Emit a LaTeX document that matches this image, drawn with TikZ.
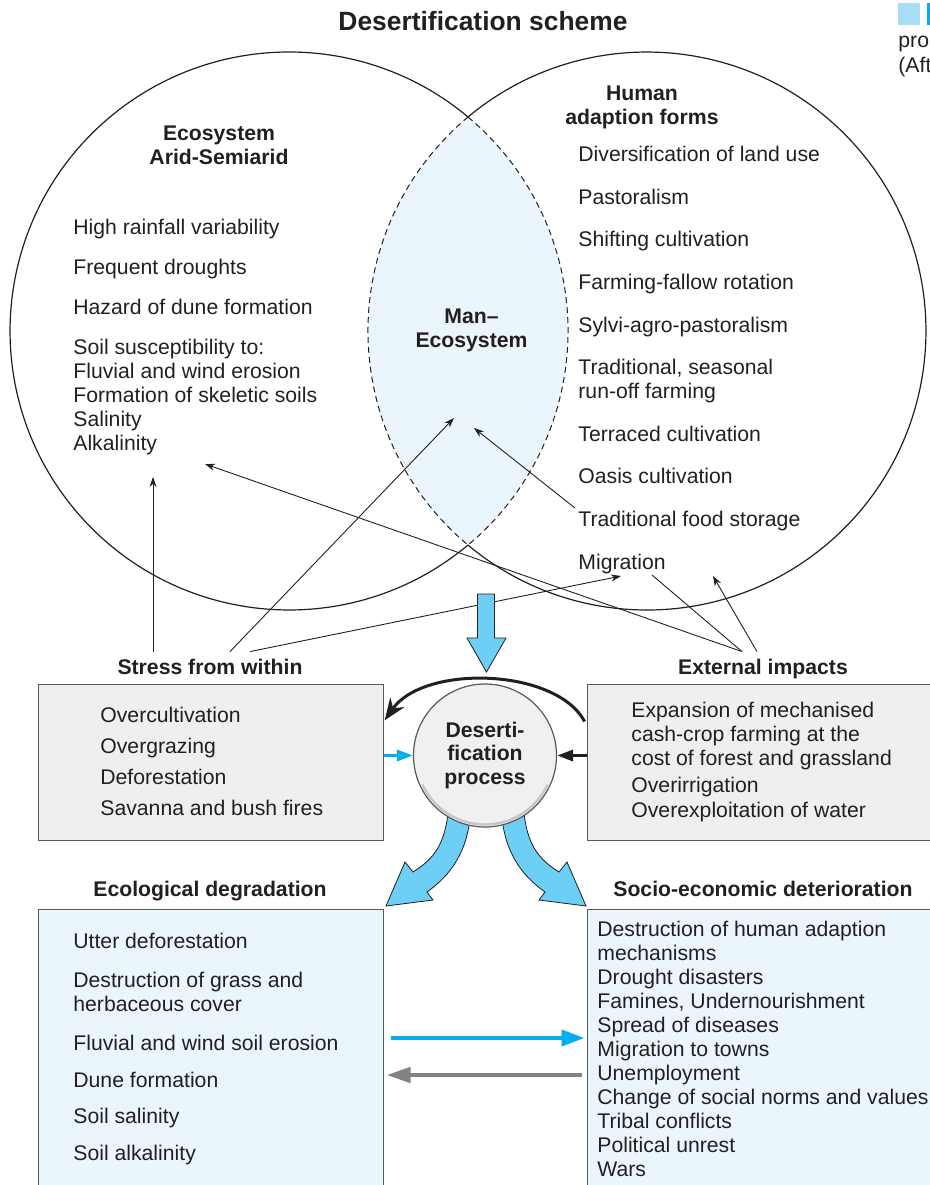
\documentclass[tikz,border=0pt]{standalone}
\usepackage{fontspec}
\setmainfont{Liberation Sans}
\usetikzlibrary{arrows.meta}
\definecolor{inkgray}{HTML}{231F20}
\definecolor{boxline}{HTML}{58595B}
\definecolor{boxgray}{HTML}{EEEFEF}
\definecolor{paleblue}{HTML}{EBF6FC}
\definecolor{arrowblue}{HTML}{6DCFF6}
\definecolor{cyanline}{HTML}{00AEEF}
\definecolor{greyline}{HTML}{808285}
\definecolor{tagblue}{HTML}{A7DDF5}

\begin{document}
\begin{tikzpicture}[x=0.5pt, y=-0.5pt,
    every node/.style={text=inkgray, font=\fontsize{10.6}{12}\selectfont},
    heading/.style={font=\fontsize{10.6}{12}\selectfont\bfseries, align=center, anchor=base},
    itemlist/.style={inner sep=0pt, align=left, anchor=base west},
    panel/.style={draw=boxline, line width=0.5pt, inner sep=0pt},
    ring/.style={draw=inkgray, line width=0.6pt},
    thinarrow/.style={draw=inkgray, line width=0.45pt, -{Stealth[length=5pt,width=3.5pt]}},
    bigarrow/.style={fill=arrowblue, draw=inkgray, line width=0.4pt}]

    % Frame
    \useasboundingbox (0,0) rectangle (930,1185);

    % Title
    \node[heading, font=\fontsize{13.2}{15}\selectfont\bfseries] (scheme) at (483,30) {Desertification scheme};

    % Caption corner (cut off)
    \fill[tagblue] (898,3) rectangle (920,25);
    \fill[cyanline] (927,3) rectangle (936,25);
    \node[itemlist] (capA) at (898,47) {pro};
    \node[itemlist] (capB) at (898,72) {(Aft};

    % Overlap of the two circles
    \fill[paleblue] (468,117) arc[start angle=-50.1, end angle=50.1, radius=279]
        arc[start angle=129.9, end angle=230.1, radius=279] -- cycle;

    % Circles
    \draw[ring] (468,545) arc[start angle=50.1, end angle=309.9, radius=279];
    \draw[ring] (468,117) arc[start angle=-129.9, end angle=129.9, radius=279];
    \draw[ring, line width=0.5pt, dash pattern=on 3pt off 2pt] (468,117)
        arc[start angle=-50.1, end angle=50.1, radius=279]
        arc[start angle=129.9, end angle=230.1, radius=279];

    % Ecosystem (nodes sit on the baseline of their last line)
    \node[heading] (ecoT) at (219,164) {Ecosystem\\Arid-Semiarid};
    \node[itemlist] (ecoList) at (73,450) {High rainfall variability\\[8pt] Frequent droughts\\[8pt]
        Hazard of dune formation\\[8pt] Soil susceptibility to:\\ Fluvial and wind erosion\\
        Formation of skeletic soils\\ Salinity\\ Alkalinity};

    % Human adaption
    \node[heading] (humanT) at (642,124) {Human\\adaption forms};
    \node[itemlist] (humanList) at (578,569) {Diversification of land use\\[9.3pt] Pastoralism\\[9.3pt]
        Shifting cultivation\\[9.3pt] Farming-fallow rotation\\[9.3pt] Sylvi-agro-pastoralism\\[9.3pt]
        Traditional, seasonal\\ run-off farming\\[9.3pt] Terraced cultivation\\[9.3pt]
        Oasis cultivation\\[9.3pt] Traditional food storage\\[9.3pt] Migration};

    % Man-Ecosystem
    \node[heading] (manT) at (471.5,347) {Man–\\Ecosystem};

    % Boxes
    \node[panel, fill=boxgray, minimum width=172.5pt, minimum height=78pt] (stress) at (210.5,762) {};
    \node[panel, fill=boxgray, minimum width=176.5pt, minimum height=78pt] (ext) at (763.5,762) {};
    \node[panel, fill=paleblue, minimum width=172.5pt, minimum height=143pt] (eco) at (210.5,1052) {};
    \node[panel, fill=paleblue, minimum width=176.5pt, minimum height=143pt] (socio) at (763.5,1052) {};

    % Box titles
    \node[heading] (stressT) at (210,674) {Stress from within};
    \node[heading] (extT) at (763,674) {External impacts};
    \node[heading] (ecoDegT) at (210,896) {Ecological degradation};
    \node[heading] (socioT) at (763,896) {Socio-economic deterioration};

    % Box texts
    \node[itemlist] (stressList) at (100,815) {Overcultivation\\[3.4pt] Overgrazing\\[3.4pt]
        Deforestation\\[3.4pt] Savanna and bush fires};
    \node[itemlist] (extList) at (631,817) {Expansion of mechanised\\ cash-crop farming at the\\
        cost of forest and grassland\\[1.5pt] Overirrigation\\[0.5pt] Overexploitation of water};
    \node[itemlist] (ecoDegList) at (73,1160) {Utter deforestation\\[7.5pt] Destruction of grass and\\
        herbaceous cover\\[7.5pt] Fluvial and wind soil erosion\\[6.5pt] Dune formation\\[6pt]
        Soil salinity\\[6.5pt] Soil alkalinity};
    \node[itemlist] (socioList) at (597,1176) {Destruction of human adaption\\ mechanisms\\
        Drought disasters\\ Famines, Undernourishment\\ Spread of diseases\\ Migration to towns\\
        Unemployment\\ Change of social norms and values\\ Tribal conflicts\\ Political unrest\\ Wars};

    % Thin arrows
    \coordinate (ecoPt) at (153,477);
    \coordinate (manPt) at (454,418);
    \coordinate (migPt) at (621,576);
    \coordinate (soilPt) at (205,464);
    \coordinate (migLine) at (652,575);
    \coordinate (humanPt) at (713,576);
    \coordinate (foodPt) at (575,508);
    \coordinate (manFood) at (474,428);
    \draw[thinarrow] (stressT.north -| 153,0) -- (ecoPt);
    \draw[thinarrow] (stressT.north -| 230,0) -- (manPt);
    \draw[thinarrow] (stressT.north -| 250,0) -- (migPt);
    \draw[thinarrow] (extT.north -| 742,0) -- (soilPt);
    \draw[draw=inkgray, line width=0.45pt] (extT.north -| 742,0) -- (migLine);
    \draw[thinarrow] (extT.north -| 757,0) -- (humanPt);
    \draw[thinarrow] (foodPt) -- (manFood);

    % Thick blue arrows
    \filldraw[bigarrow] (477.5,594) -- (494.5,594) -- (494.5,638) -- (506,638) -- (486.5,672)
        -- (467,638) -- (477.5,638) -- cycle;
    \filldraw[bigarrow] (449,800) .. controls (447,843) and (435,858) .. (413,872) -- (405,862)
        -- (386,906) -- (433,900) -- (427,892) .. controls (455,872) and (471,845) .. (471,800) -- cycle;
    \filldraw[bigarrow] (523,800) .. controls (525,843) and (537,858) .. (559,872) -- (567,862)
        -- (586,906) -- (539,900) -- (545,892) .. controls (517,872) and (501,845) .. (501,800) -- cycle;

    % Desertification process
    \node[circle, draw=boxline, fill=gray!12, line width=0.6pt, minimum size=71.5pt, inner sep=0pt,
        align=center, font=\fontsize{10.6}{11.8}\selectfont\bfseries] (desert) at (485,755.5)
        {Deserti-\\fication\\process};
    \draw[gray!45, line width=1.2pt] ([shift={(25:69)}]desert.center) arc[start angle=25, end angle=155, radius=69];

    % Arrows round the process
    \draw[inkgray, line width=1.5pt, -{Stealth[length=11pt,width=8.5pt]}, shorten <=2pt, shorten >=1pt]
        (ext.west |- 0,725) .. controls (556,668) and (424,664) .. (stress.east |- 0,722);
    \draw[cyanline, line width=1.6pt, -{Triangle[length=8pt,width=5.5pt]}] (stress.east |- desert) -- (desert.west);
    \draw[inkgray, line width=1.6pt, -{Triangle[length=8pt,width=5.5pt]}] (ext.west |- desert) -- (desert.east);

    % Arrows between the lower boxes
    \draw[cyanline, line width=2pt, -{Triangle[length=11.5pt,width=8pt]}, shorten <=3.5pt, shorten >=1pt]
        (eco.east |- 0,1038) -- (socio.west |- 0,1038);
    \draw[greyline, line width=2.3pt, -{Triangle[length=12pt,width=7.5pt]}, shorten <=2.5pt, shorten >=1.5pt]
        (socio.west |- 0,1075) -- (eco.east |- 0,1075);
\end{tikzpicture}
\end{document}
